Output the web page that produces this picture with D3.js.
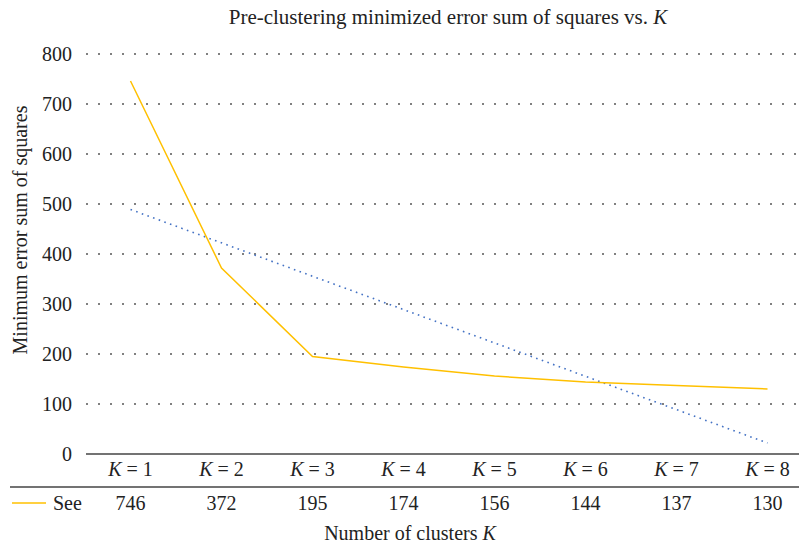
<!DOCTYPE html>
<html>
<head>
<meta charset="utf-8">
<script src="https://cdn.jsdelivr.net/npm/d3@7/dist/d3.min.js"></script>
<style>
  body { margin: 0; background: #fff; }
  text { font-family: "Liberation Serif", "Times New Roman", serif; fill: #222; }
</style>
</head>
<body>
<svg id="chart" width="799" height="548"></svg>
<script>
// chart data
var categories = ["1", "2", "3", "4", "5", "6", "7", "8"];
var seeValues = [746, 372, 195, 174, 156, 144, 137, 130];
var trendEnds = [489, 22];       // dotted trend line at K = 1 and K = 8
var yTicks = [0, 100, 200, 300, 400, 500, 600, 700, 800];

var FONT = 20;
var svg = d3.select("#chart");

var x = d3.scaleBand().domain(categories).range([85, 813]);
var y = d3.scaleLinear().domain([0, 800]).range([454, 54]);
var cx = function(k) { return x(k) + x.bandwidth() / 2; };

// title
var title = svg.append("text")
    .attr("x", 448).attr("y", 24)
    .attr("text-anchor", "middle")
    .style("font-size", "21px");
title.append("tspan").text("Pre-clustering minimized error sum of squares vs. ");
title.append("tspan").style("font-style", "italic").text("K");

// dotted grid lines
svg.append("g").selectAll("line")
    .data(yTicks.filter(function(d) { return d > 0; }))
    .enter().append("line")
    .attr("x1", 86).attr("x2", 799)
    .attr("y1", function(d) { return y(d); })
    .attr("y2", function(d) { return y(d); })
    .style("stroke", "#808080")
    .style("stroke-width", 2)
    .style("stroke-dasharray", "2, 10");

// y axis labels
var yAxis = svg.append("g")
    .attr("transform", "translate(72,0)")
    .attr("font-family", null)
    .call(d3.axisLeft(y).tickValues(yTicks).tickSize(0).tickPadding(0));
yAxis.select(".domain").remove();
yAxis.selectAll("text")
    .style("font-size", FONT + "px")
    .attr("fill", "#222");

// baseline (value 0)
svg.append("line")
    .attr("x1", 86).attr("x2", 799)
    .attr("y1", y(0)).attr("y2", y(0))
    .style("stroke", "#444").style("stroke-width", 1.5);

// category labels
var kLabels = svg.append("g").selectAll("text")
    .data(categories).enter().append("text")
    .attr("x", function(d) { return cx(d); })
    .attr("y", 476)
    .attr("text-anchor", "middle")
    .style("font-size", FONT + "px");
kLabels.append("tspan").style("font-style", "italic").text("K");
kLabels.append("tspan").text(function(d) { return " = " + d; });

// table separator
svg.append("line")
    .attr("x1", 10).attr("x2", 799)
    .attr("y1", 487).attr("y2", 487)
    .style("stroke", "#444").style("stroke-width", 1.5);

// legend key + values row
svg.append("line")
    .attr("x1", 12).attr("x2", 46)
    .attr("y1", 503).attr("y2", 503)
    .style("stroke", "#FFC000").style("stroke-width", 1.5);
svg.append("text")
    .attr("x", 53).attr("y", 510)
    .style("font-size", FONT + "px")
    .text("See");
svg.append("g").selectAll("text")
    .data(seeValues).enter().append("text")
    .attr("x", function(d, i) { return cx(categories[i]); })
    .attr("y", 510)
    .attr("text-anchor", "middle")
    .style("font-size", FONT + "px")
    .text(function(d) { return d; });

// trend line (dotted)
svg.append("line")
    .attr("x1", cx(categories[0])).attr("y1", y(trendEnds[0]))
    .attr("x2", cx(categories[categories.length - 1])).attr("y2", y(trendEnds[1]))
    .style("stroke", "#4472C4")
    .style("stroke-width", 1.6)
    .style("stroke-dasharray", "1.6, 4.4");

// series line
var line = d3.line()
    .x(function(d, i) { return cx(categories[i]); })
    .y(function(d) { return y(d); });
svg.append("path")
    .datum(seeValues)
    .attr("d", line)
    .style("fill", "none")
    .style("stroke", "#FFC000")
    .style("stroke-width", 1.5);

// axis titles
svg.append("text")
    .attr("transform", "translate(27,230) rotate(-90)")
    .attr("text-anchor", "middle")
    .style("font-size", FONT + "px")
    .text("Minimum error sum of squares");

var xt = svg.append("text")
    .attr("x", 410).attr("y", 540)
    .attr("text-anchor", "middle")
    .style("font-size", FONT + "px");
xt.append("tspan").text("Number of clusters ");
xt.append("tspan").style("font-style", "italic").text("K");
</script>
</body>
</html>
